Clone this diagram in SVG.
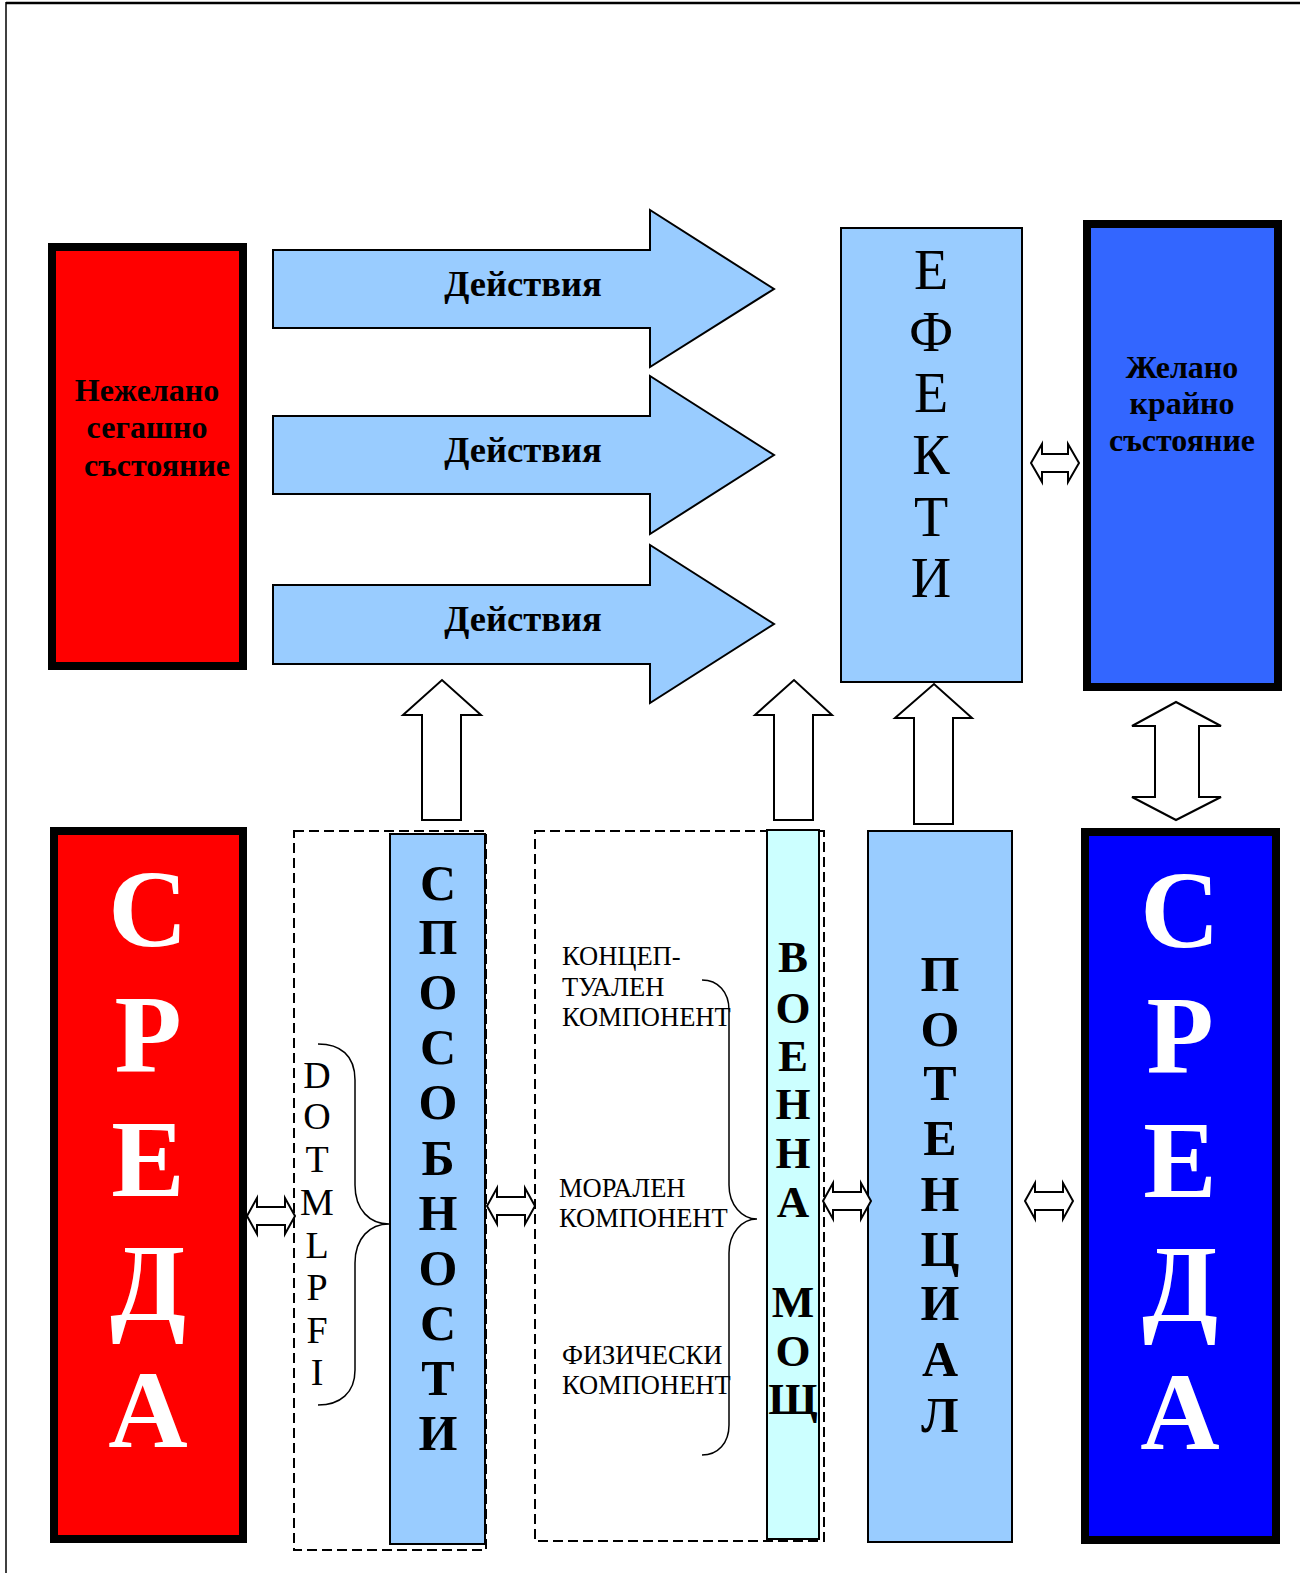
<svg xmlns="http://www.w3.org/2000/svg" width="1300" height="1573" viewBox="0 0 1300 1573">
<style>
.t{font-family:"Liberation Serif","Times New Roman",serif;text-anchor:middle;fill:#000}
.b{font-weight:bold}
.lb{fill:#99CCFF;stroke:#000;stroke-width:2}
.blk{stroke:#000;stroke-width:8}
.wa{fill:#fff;stroke:#000;stroke-width:2;stroke-linejoin:miter}
.dash{fill:none;stroke:#000;stroke-width:2;stroke-dasharray:10,5}
.br{fill:none;stroke:#000;stroke-width:1.5}
.big{font-size:110px;font-weight:bold;fill:#fff}
.v48{font-size:50px;font-weight:bold}
.v44{font-size:45px;font-weight:bold}
.ef{font-size:56px}
.dot{font-size:38px}
.cmp{font-family:"Liberation Serif","Times New Roman",serif;font-size:26.5px;fill:#000}
.act{font-size:36.5px;font-weight:bold}
.st{font-size:32px;font-weight:bold}
</style>
<rect width="1300" height="1573" fill="#fff"/>
<g id="frame">
<line x1="6" y1="3" x2="1300" y2="3" stroke="#000" stroke-width="2.5"/>
<line x1="6" y1="2" x2="6" y2="1573" stroke="#000" stroke-width="1.5"/>
</g>

<g id="undesired">
<rect x="52" y="247" width="191" height="419" fill="#FF0000" class="blk"/>
<text class="t st" x="147" y="401">Нежелано</text>
<text class="t st" x="147" y="438">сегашно</text>
<text class="t st" x="157" y="476">състояние</text>
</g>

<g id="action1">
<path class="lb" d="M273,250 H650 V210 L774,289 L650,367 V328 H273 Z"/>
<text class="t act" x="523" y="296">Действия</text>
</g>
<g id="action2">
<path class="lb" d="M273,416 H650 V376 L774,455 L650,534 V494 H273 Z"/>
<text class="t act" x="523" y="462">Действия</text>
</g>
<g id="action3">
<path class="lb" d="M273,585 H650 V545 L774,624 L650,703 V664 H273 Z"/>
<text class="t act" x="523" y="631">Действия</text>
</g>

<g id="effects">
<rect x="841" y="228" width="181" height="454" class="lb"/>
<text class="t ef" x="931" y="289">Е</text>
<text class="t ef" x="931" y="351">Ф</text>
<text class="t ef" x="931" y="412">Е</text>
<text class="t ef" x="931" y="474">К</text>
<text class="t ef" x="931" y="536">Т</text>
<text class="t ef" x="931" y="597">И</text>
</g>

<g id="desired">
<rect x="1087" y="224" width="191" height="463" fill="#3366FF" class="blk"/>
<text class="t st" x="1182" y="378">Желано</text>
<text class="t st" x="1182" y="414">крайно</text>
<text class="t st" x="1182" y="451">състояние</text>
</g>

<g id="env-left">
<rect x="54" y="831" width="189" height="708" fill="#FF0000" class="blk"/>
<text class="t big" x="148" y="946">С</text>
<text class="t big" x="148" y="1071">Р</text>
<text class="t big" x="148" y="1196">Е</text>
<text class="t big" x="148" y="1321">Д</text>
<text class="t big" x="148" y="1447">А</text>
</g>

<g id="env-right">
<rect x="1085" y="832" width="191" height="708" fill="#0000FF" class="blk"/>
<text class="t big" x="1180" y="947">С</text>
<text class="t big" x="1180" y="1072">Р</text>
<text class="t big" x="1180" y="1197">Е</text>
<text class="t big" x="1180" y="1322">Д</text>
<text class="t big" x="1180" y="1449">А</text>
</g>

<g id="dotmlpfi-group">
<rect x="294" y="831" width="192" height="719" class="dash"/>
<text class="t dot" x="317" y="1088">D</text>
<text class="t dot" x="317" y="1129">O</text>
<text class="t dot" x="317" y="1172">T</text>
<text class="t dot" x="317" y="1215">M</text>
<text class="t dot" x="317" y="1258">L</text>
<text class="t dot" x="317" y="1300">P</text>
<text class="t dot" x="317" y="1343">F</text>
<text class="t dot" x="317" y="1385">I</text>
<path class="br" d="M318,1044 C340,1044 355,1055 355,1080 L355,1185 C355,1210 370,1224 389,1224 C370,1224 355,1238 355,1263 L355,1370 C355,1393 340,1405 318,1405"/>
</g>

<g id="capabilities">
<rect x="390" y="834" width="95" height="710" class="lb"/>
<text class="t v48" x="438" y="900">С</text>
<text class="t v48" x="438" y="954">П</text>
<text class="t v48" x="438" y="1009">О</text>
<text class="t v48" x="438" y="1064">С</text>
<text class="t v48" x="438" y="1119">О</text>
<text class="t v48" x="438" y="1175">Б</text>
<text class="t v48" x="438" y="1230">Н</text>
<text class="t v48" x="438" y="1285">О</text>
<text class="t v48" x="438" y="1340">С</text>
<text class="t v48" x="438" y="1395">Т</text>
<text class="t v48" x="438" y="1450">И</text>
</g>

<g id="components-group">
<rect x="535" y="831" width="289" height="710" class="dash"/>
<text class="cmp" x="562" y="965">КОНЦЕП-</text>
<text class="cmp" x="562" y="996">ТУАЛЕН</text>
<text class="cmp" x="562" y="1026">КОМПОНЕНТ</text>
<text class="cmp" x="559" y="1197">МОРАЛЕН</text>
<text class="cmp" x="559" y="1227">КОМПОНЕНТ</text>
<text class="cmp" x="562" y="1364">ФИЗИЧЕСКИ</text>
<text class="cmp" x="562" y="1394">КОМПОНЕНТ</text>
<path class="br" d="M702,980 C718,980 729,992 729,1010 L729,1185 C729,1205 742,1219 757,1219 C742,1219 729,1233 729,1253 L729,1425 C729,1443 718,1455 702,1455"/>
</g>

<g id="military-power">
<rect x="767" y="830" width="52" height="709" fill="#CCFFFF" stroke="#000" stroke-width="2"/>
<text class="t v44" x="793" y="972">В</text>
<text class="t v44" x="793" y="1023">О</text>
<text class="t v44" x="793" y="1071">Е</text>
<text class="t v44" x="793" y="1119">Н</text>
<text class="t v44" x="793" y="1168">Н</text>
<text class="t v44" x="793" y="1217">А</text>
<text class="t v44" x="793" y="1317">М</text>
<text class="t v44" x="793" y="1366">О</text>
<text class="t v44" x="793" y="1414">Щ</text>
</g>

<g id="potential">
<rect x="868" y="831" width="144" height="711" class="lb"/>
<text class="t v48" x="940" y="991">П</text>
<text class="t v48" x="940" y="1046">О</text>
<text class="t v48" x="940" y="1100">Т</text>
<text class="t v48" x="940" y="1155">Е</text>
<text class="t v48" x="940" y="1211">Н</text>
<text class="t v48" x="940" y="1266">Ц</text>
<text class="t v48" x="940" y="1320">И</text>
<text class="t v48" x="940" y="1376">А</text>
<text class="t v48" x="940" y="1432">Л</text>
</g>

<g id="connectors">
<path class="wa" d="M403,715 L442,680 L481,715 H461 V820 H422 V715 Z"/>
<path class="wa" d="M755,715 L794,680 L832,715 H813 V820 H774 V715 Z"/>
<path class="wa" d="M895,718 L934,684 L972,718 H953 V824 H914 V718 Z"/>
<path class="wa" d="M1132,726 L1176,702 L1221,726 H1199 V797 H1221 L1176,820 L1132,797 H1155 V726 Z"/>
<path class="wa" d="M1031,463 L1042,444 V454 H1068 V444 L1079,463 L1068,482 V472 H1042 V482 Z"/>
<path class="wa" d="M247,1216 L257,1198 V1207 H285 V1198 L295,1216 L285,1234 V1225 H257 V1234 Z"/>
<path class="wa" d="M487,1206 L497,1188 V1197 H525 V1188 L535,1206 L525,1224 V1215 H497 V1224 Z"/>
<path class="wa" d="M823,1201 L833,1183 V1192 H861 V1183 L871,1201 L861,1219 V1210 H833 V1219 Z"/>
<path class="wa" d="M1025,1201 L1035,1183 V1192 H1063 V1183 L1073,1201 L1063,1219 V1210 H1035 V1219 Z"/>
</g>
</svg>
